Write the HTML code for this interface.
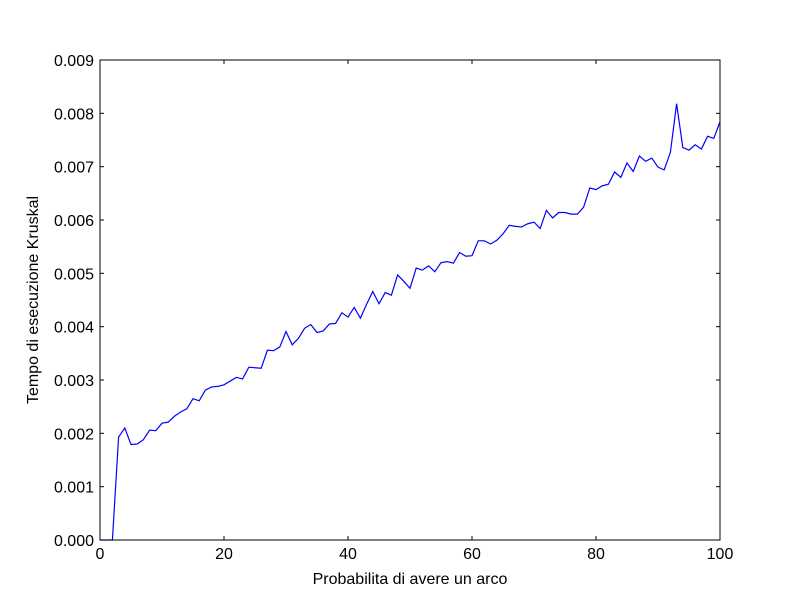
<!DOCTYPE html>
<html><head><meta charset="utf-8"><style>
body{margin:0;background:#fff;}
svg text{font-family:"Liberation Sans",sans-serif;font-size:16px;fill:#000;}
</style></head><body>
<svg id="chart" width="800" height="600">
<rect x="0" y="0" width="800" height="600" fill="#fff"/>
<g id="ticks"></g>
<polyline id="line" fill="none" stroke="#0000ff" stroke-width="1.2"/>
<rect x="100" y="60" width="620" height="480" fill="none" stroke="#000" stroke-width="1"/>
<text x="410" y="584" text-anchor="middle">Probabilita di avere un arco</text>
<text transform="translate(38,300) rotate(-90)" text-anchor="middle">Tempo di esecuzione Kruskal</text>
</svg>
<script>
const values=[0,0,0,0.00193,0.0021,0.00179,0.0018,0.00188,0.00206,0.00205,0.00219,0.00221,0.00232,0.0024,0.00246,0.00265,0.00261,0.00281,0.00287,0.00288,0.00291,0.00298,0.00305,0.00302,0.00324,0.00323,0.00322,0.00356,0.00355,0.00362,0.00391,0.00366,0.00378,0.00397,0.00404,0.00389,0.00392,0.00405,0.00406,0.00426,0.00418,0.00436,0.00416,0.00442,0.00466,0.00443,0.00464,0.00459,0.00497,0.00485,0.00472,0.0051,0.00506,0.00514,0.00503,0.0052,0.00522,0.00519,0.00539,0.00532,0.00533,0.00561,0.00561,0.00555,0.00562,0.00574,0.0059,0.00588,0.00587,0.00593,0.00596,0.00584,0.00618,0.00604,0.00614,0.00614,0.00611,0.00611,0.00624,0.0066,0.00657,0.00664,0.00667,0.0069,0.0068,0.00707,0.00691,0.0072,0.0071,0.00716,0.00699,0.00694,0.00727,0.00818,0.00736,0.00731,0.00741,0.00733,0.00757,0.00753,0.00784];
const xTicks=[0,20,40,60,80,100];
const yTicks=[0,0.001,0.002,0.003,0.004,0.005,0.006,0.007,0.008,0.009];
const X=v=>100+v/100*620, Y=v=>540-v/0.009*480;
const ns="http://www.w3.org/2000/svg", g=document.getElementById('ticks');
function add(tag,attrs,txt){const e=document.createElementNS(ns,tag);for(const k in attrs)e.setAttribute(k,attrs[k]);if(txt!==undefined)e.textContent=txt;g.appendChild(e);return e;}
xTicks.forEach(t=>{const x=X(t);
 let a=add('line',{x1:x,x2:x,y1:540,y2:536,stroke:'#000'});
 
 
 let b=add('line',{x1:x,x2:x,y1:60,y2:64,stroke:'#000'});
 
 
 let l=add('text',{x:x,y:559,'text-anchor':'middle'},String(t));
 
 
});
yTicks.forEach(t=>{const y=Y(t);
 let a=add('line',{x1:100,x2:104,y1:y,y2:y,stroke:'#000'});
 
 
 let b=add('line',{x1:716,x2:720,y1:y,y2:y,stroke:'#000'});
 
 
 let l=add('text',{x:94,y:y+6,'text-anchor':'end'},t.toFixed(3));
 
 
});
document.getElementById('line').setAttribute('points',values.map((v,i)=>X(i)+','+Y(v)).join(' '));
</script>
</body></html>
